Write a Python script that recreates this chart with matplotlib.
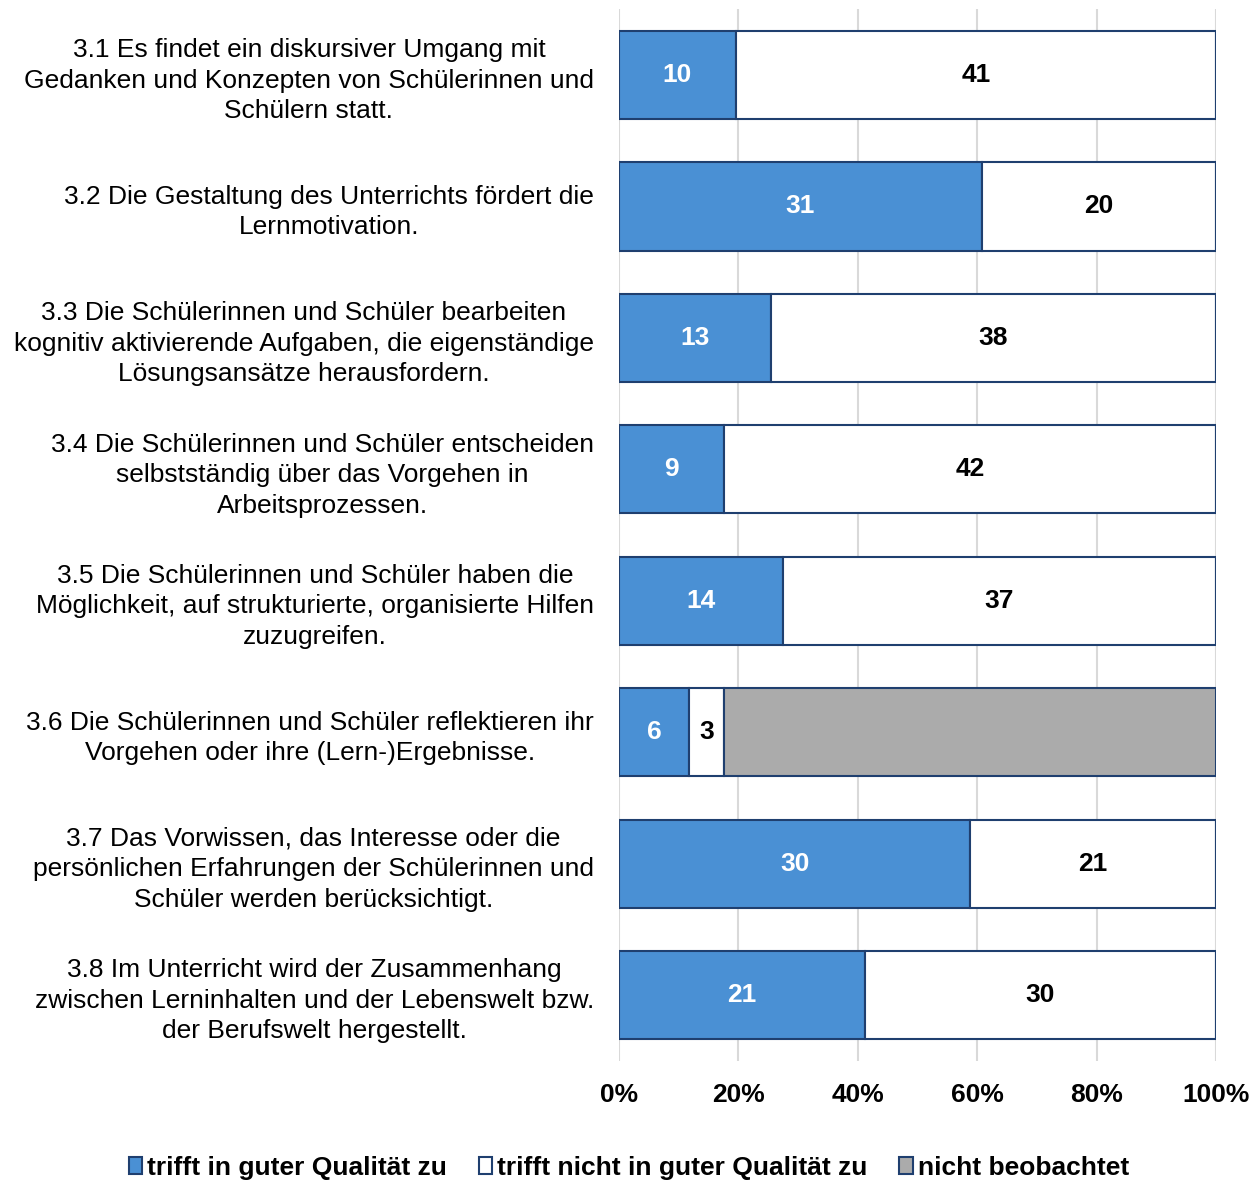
import matplotlib.pyplot as plt
from matplotlib.patches import Patch
import numpy as np

plt.rcParams['font.family'] = ['Liberation Sans', 'DejaVu Sans']

labels = [
    "3.1 Es findet ein diskursiver Umgang mit\nGedanken und Konzepten von Schülerinnen und\nSchülern statt.",
    "3.2 Die Gestaltung des Unterrichts fördert die\nLernmotivation.",
    "3.3 Die Schülerinnen und Schüler bearbeiten\nkognitiv aktivierende Aufgaben, die eigenständige\nLösungsansätze herausfordern.",
    "3.4 Die Schülerinnen und Schüler entscheiden\nselbstständig über das Vorgehen in\nArbeitsprozessen.",
    "3.5 Die Schülerinnen und Schüler haben die\nMöglichkeit, auf strukturierte, organisierte Hilfen\nzuzugreifen.",
    "3.6 Die Schülerinnen und Schüler reflektieren ihr\nVorgehen oder ihre (Lern-)Ergebnisse.",
    "3.7 Das Vorwissen, das Interesse oder die\npersönlichen Erfahrungen der Schülerinnen und\nSchüler werden berücksichtigt.",
    "3.8 Im Unterricht wird der Zusammenhang\nzwischen Lerninhalten und der Lebenswelt bzw.\nder Berufswelt hergestellt.",
]
gut = [10, 31, 13, 9, 14, 6, 30, 21]
nicht_gut = [41, 20, 38, 42, 37, 3, 21, 30]
nicht_beob = [0, 0, 0, 0, 0, 42, 0, 0]
series_names = ["trifft in guter Qualität zu", "trifft nicht in guter Qualität zu", "nicht beobachtet"]
colors = ["#4A90D4", "#FFFFFF", "#ABABAB"]
edge = "#1F3F6F"

gut = np.array(gut)
nicht_gut = np.array(nicht_gut)
nicht_beob = np.array(nicht_beob)
total = gut + nicht_gut + nicht_beob

fig = plt.figure(figsize=(12.58, 11.82), dpi=100)
ax = fig.add_axes([0.492, 0.1026, 0.4746, 0.8895])

y = np.arange(len(labels))
left = np.zeros(len(labels))
for vals, col, txtcol, show in [(gut, colors[0], "white", True),
                                 (nicht_gut, colors[1], "black", True),
                                 (nicht_beob, colors[2], "black", False)]:
    share = vals / total * 100
    ax.barh(y, share, left=left, height=0.67, color=col, edgecolor=edge, linewidth=1.5, zorder=3)
    if show:
        for i in range(len(labels)):
            if vals[i] > 0:
                ax.text(left[i] + share[i] / 2, y[i], str(vals[i]), ha="center", va="center",
                        color=txtcol, fontsize=19, fontweight="bold", zorder=4)
    left = left + share

ax.set_xlim(0, 100)
ax.set_ylim(len(labels) - 0.5, -0.5)
ax.set_xticks([0, 20, 40, 60, 80, 100])
ax.set_xticklabels(["0%", "20%", "40%", "60%", "80%", "100%"], fontsize=19, fontweight="bold")
ax.set_yticks(y)
ax.set_yticklabels(labels, fontsize=19, multialignment="center", linespacing=1.34)
ax.tick_params(axis="both", length=0)
ax.tick_params(axis="x", pad=16)
ax.tick_params(axis="y", pad=18)
ax.grid(axis="x", color="#D9D9D9", linewidth=1.5, zorder=0)
for s in ax.spines.values():
    s.set_visible(False)

handles = [Patch(facecolor=c, edgecolor=edge, linewidth=1.5) for c in colors]
fig.legend(handles, series_names, loc="center", bbox_to_anchor=(0.5, 0.012), ncol=3, frameon=False,
           prop={"size": 19, "weight": "bold"}, handlelength=0.5, handleheight=0.6,
           handletextpad=0.2, columnspacing=1.2)

fig.savefig("out.png", dpi=100)
